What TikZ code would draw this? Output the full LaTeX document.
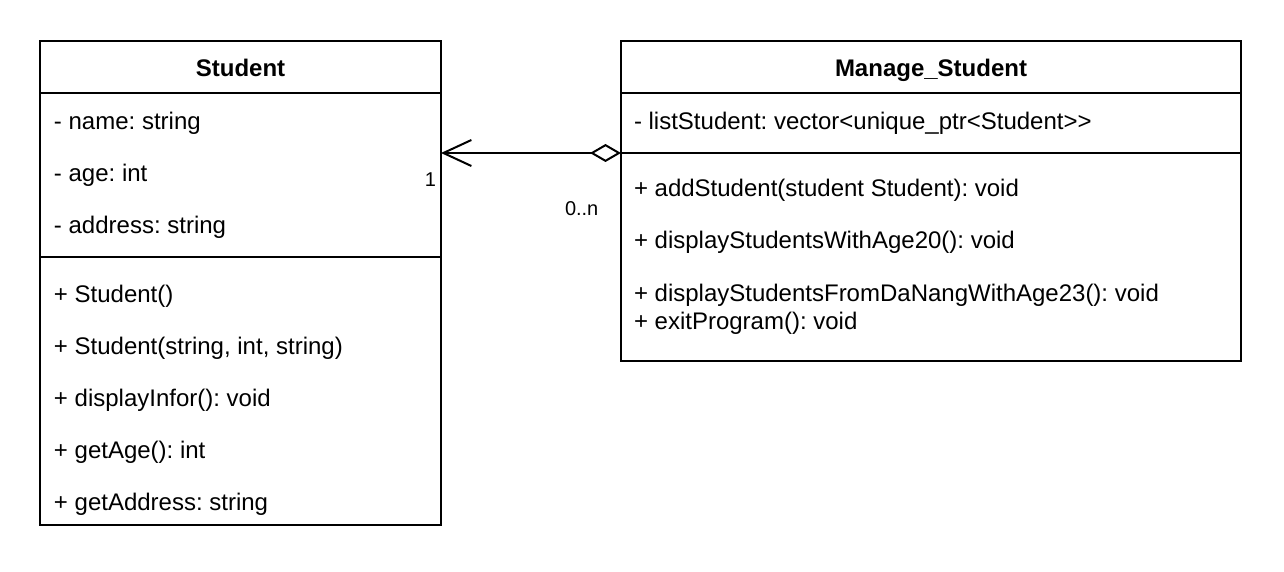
\documentclass[tikz,border=0pt]{standalone}
\usepackage{fontspec}
\setmainfont{Liberation Sans}
\usetikzlibrary{arrows.meta,positioning}
\frenchspacing

\begin{document}
\begin{tikzpicture}[x=0.5pt,y=-0.5pt,line width=1pt,
    part/.style={draw,rectangle,inner sep=0pt,outer sep=0pt},
    title/.style={font=\fontsize{12}{14}\selectfont\bfseries,anchor=base},
    member/.style={font=\fontsize{12}{14}\selectfont,anchor=base west,inner sep=0pt},
    mult/.style={font=\fontsize{10}{12}\selectfont,inner sep=0pt}]
  \useasboundingbox (0,0) rectangle (1284,572);
  % class Student
  \node[part,anchor=north west,minimum width=200.5pt,minimum height=26pt] (s_head) at (40,41) {};
  \node[part,minimum width=200.5pt,minimum height=82pt] (s_attr) [below=0pt of s_head] {};
  \node[part,minimum width=200.5pt,minimum height=134pt] (s_meth) [below=0pt of s_attr] {};
  \node[title] (s_title) at (240.5,77) {Student};
  \node[member] (s_name) at (53,130) {- name: string};
  \node[member] (s_age) at (53,182) {- age: int};
  \node[member] (s_address) at (53,234) {- address: string};
  \node[member] (s_ctor) at (53,302) {+ Student()};
  \node[member] (s_ctor2) at (53,354) {+ Student(string, int, string)};
  \node[member] (s_display) at (53,406) {+ displayInfor(): void};
  \node[member] (s_getage) at (53,458) {+ getAge(): int};
  \node[member] (s_getaddr) at (53,510) {+ getAddress: string};
  % class Manage_Student
  \node[part,anchor=north west,minimum width=310pt,minimum height=26pt] (m_head) at (621,41) {};
  \node[part,minimum width=310pt,minimum height=30pt] (m_attr) [below=0pt of m_head] {};
  \node[part,minimum width=310pt,minimum height=104pt] (m_meth) [below=0pt of m_attr] {};
  \node[title] (m_title) at (931,77) {Manage\_Student};
  \node[member] (m_list) at (633,130) {- listStudent: vector<unique\_ptr<Student>{}>};
  \node[member] (m_add) at (633,197) {+ addStudent(student Student): void};
  \node[member] (m_age20) at (633,249) {+ displayStudentsWithAge20(): void};
  \node[member] (m_dn23) at (633,301) {+ displayStudentsFromDaNangWithAge23(): void};
  \node[member] (m_exit) at (633,329) {+ exitProgram(): void};
  % aggregation
  \draw[{Diamond[open,length=15.5pt,width=9pt]}-{Straight Barb[length=14pt,width=13pt]}]
    (m_meth.north west) -- (m_meth.north west -| s_attr.east);
  \node[mult,anchor=base east] (one) at (437,187) {1};
  \node[mult,anchor=base west] (many) at (564,216) {0..n};
\end{tikzpicture}
\end{document}
